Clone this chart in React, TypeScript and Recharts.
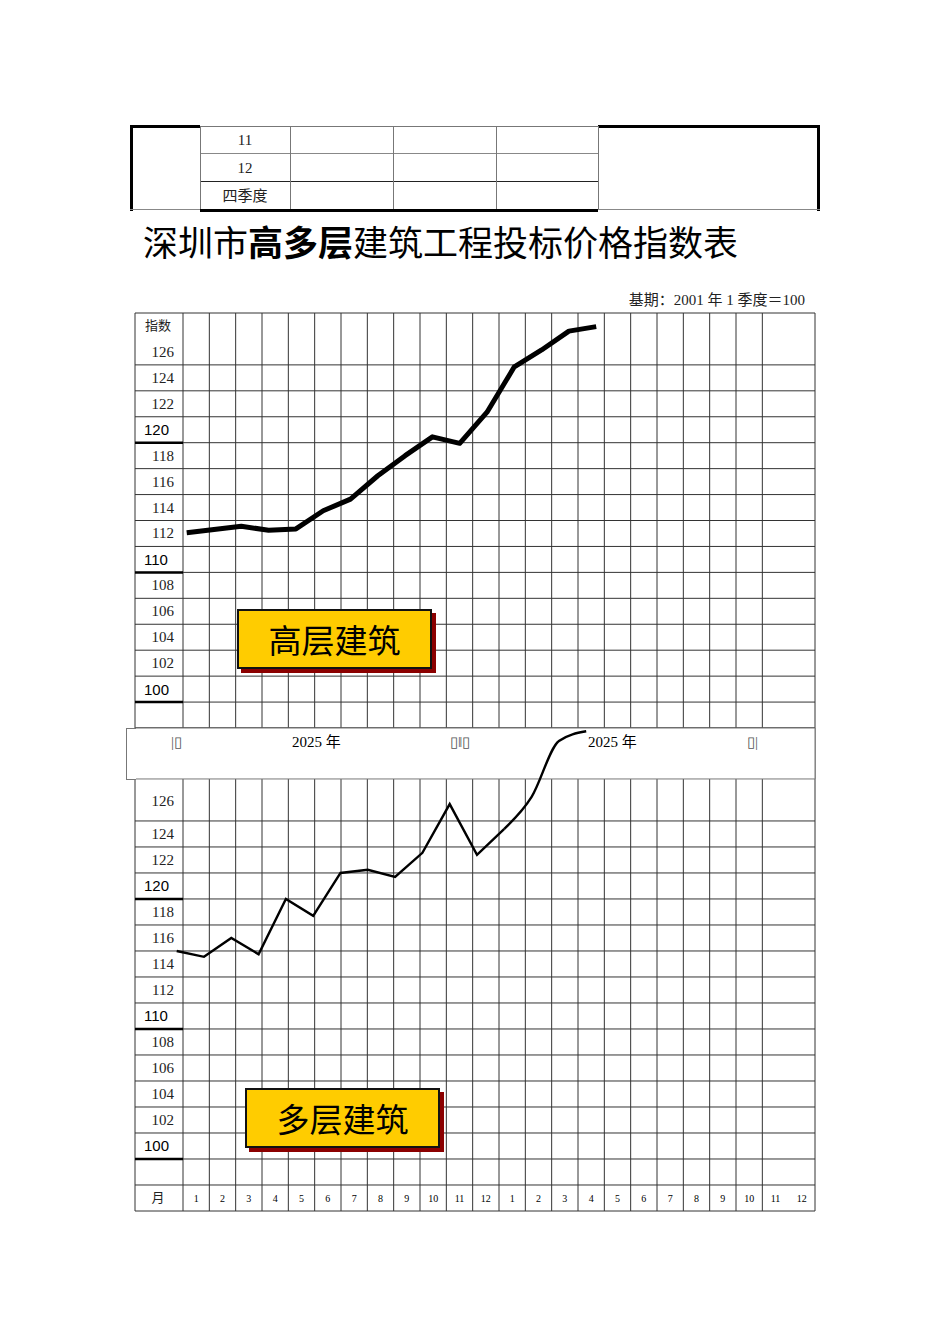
import React from "react";
import { LineChart, Line, XAxis, YAxis, CartesianGrid, ReferenceArea } from "recharts";

/* ── Data ─────────────────────────────────────────────────────────────── */
const months = ["1", "2", "3", "4", "5", "6", "7", "8", "9", "10", "11", "12",
  "1", "2", "3", "4", "5", "6", "7", "8", "9", "10", "11", "12"];

// 高层建筑 – index per month (Jan of year 1 .. Apr of year 2)
const highRise = [112.05, 112.3, 112.55, 112.25, 112.35, 113.75, 114.65, 116.45,
  118.0, 119.45, 118.95, 121.35, 124.85, 126.15, 127.6, 127.95];
// 多层建筑
const multiStorey = [115.0, 114.55, 116.0, 114.75, 119.0, 117.7, 121.0, 121.25,
  120.7, 122.55, 126.3, 122.4, 124.4, 126.85, 131.15, 131.9];

const upperTicks = [128, 126, 124, 122, 120, 118, 116, 114, 112, 110, 108, 106, 104, 102, 100, 98];
const upperLabels = ["指数", "126", "124", "122", "120", "118", "116", "114", "112",
  "110", "108", "106", "104", "102", "100", ""];
const lowerTicks = [126, 124, 122, 120, 118, 116, 114, 112, 110, 108, 106, 104, 102, 100, 98, 96];
const lowerLabels = ["126", "124", "122", "120", "118", "116", "114", "112",
  "110", "108", "106", "104", "102", "100", "", "月"];
const boldRows = ["120", "110", "100"];
const tableRows = ["11", "12", "四季度"];
const bandTexts = ["|▯", "2025 年", "▯‖▯", "2025 年", "▯|"];

const rows = highRise.map((h, i) => ({
  i,
  high: h,
  lowA: i <= 12 ? multiStorey[i] : null,
  lowB: i >= 12 ? multiStorey[i] : null,
}));

/* ── Layout ───────────────────────────────────────────────────────────── */
const serif = "'Liberation Serif', 'Noto Sans CJK SC', serif";
const cjk = "'Noto Sans CJK SC', sans-serif";
const PLOT_W = 680;
const LABEL_COLS = 48 / 26.33;
const colTicks = [-LABEL_COLS, ...Array.from({ length: 25 }, (_, k) => k)];
const monTicks = months.map((_, k) => k + 0.5);
const oddTicks = (lo: number, hi: number) => Array.from({ length: (hi - lo) / 2 + 1 }, (_, k) => lo + 2 * k);
const GRID = "#333";

// labels of the left column; firstDy nudges the top label (the lower chart's top row is taller)
function rowLabel(ticks: number[], labels: string[], firstDy = 0) {
  return (props: any) => {
    const { payload } = props;
    const idx = ticks.indexOf(payload.value);
    const y = props.y + (idx === 0 ? firstDy : 0);
    const label = labels[idx] ?? "";
    if (!label) return <g />;
    if (boldRows.includes(label)) {
      return (
        <g>
          <text x={10} y={y} dominantBaseline="central" fontFamily="'Liberation Sans', sans-serif" fontSize={15} fill="#000">{label}</text>
          <line x1={1} x2={49} y1={y + 13} y2={y + 13} stroke="#000" strokeWidth={2.5} />
        </g>
      );
    }
    const isCjk = /\D/.test(label);
    return (
      <text x={isCjk ? 24 : 40} y={y} dominantBaseline="central" textAnchor={isCjk ? "middle" : "end"}
        fontFamily={serif} fontSize={isCjk ? 13 : 15} fill="#222">{label}</text>
    );
  };
}

function monthLabel(plotBottom: number) {
  return (props: any) => {
    const { x, payload } = props;
    return (
      <text x={x} y={plotBottom - 13} dominantBaseline="central" textAnchor="middle"
        fontFamily={serif} fontSize={10} fill="#000">{months[Math.floor(payload.value)]}</text>
    );
  };
}

function UpperChart() {
  const h = 415;
  return (
    <div style={{ position: "absolute", left: 134, top: 312 }}>
      <LineChart width={PLOT_W + 2} height={h + 2} data={rows} margin={{ top: 1, right: 1, bottom: 1, left: 1 }}>
        <XAxis xAxisId="col" type="number" dataKey="i" domain={[-LABEL_COLS, 24]} ticks={colTicks} allowDataOverflow hide />
        <XAxis xAxisId="pt" type="number" dataKey="i" domain={[-1.894, 23.014]} allowDataOverflow hide />
        <YAxis yAxisId="grid" type="number" domain={[97, 129]} ticks={oddTicks(97, 129)} allowDataOverflow hide />
        <YAxis yAxisId="v" type="number" domain={[97, 129]} ticks={upperTicks} interval={0} allowDataOverflow
          mirror axisLine={false} tickLine={false} tickSize={0} tickMargin={0} tick={rowLabel(upperTicks, upperLabels)} />
        <CartesianGrid xAxisId="col" yAxisId="grid" stroke={GRID} />
        <Line xAxisId="pt" yAxisId="v" type="linear" dataKey="high" stroke="#000" strokeWidth={5}
          strokeLinejoin="round" dot={false} isAnimationActive={false} />
      </LineChart>
    </div>
  );
}

function LowerChart() {
  const h = 483;
  return (
    <div style={{ position: "absolute", left: 134, top: 727 }}>
      <LineChart width={PLOT_W + 2} height={h + 2} data={rows} margin={{ top: 1, right: 1, bottom: 1, left: 1 }}>
        <XAxis xAxisId="col" type="number" dataKey="i" domain={[-LABEL_COLS, 24]} ticks={colTicks} allowDataOverflow hide />
        <XAxis xAxisId="mon" type="number" dataKey="i" domain={[-LABEL_COLS, 24]} ticks={monTicks} interval={0} allowDataOverflow
          mirror axisLine={false} tickLine={false} tickSize={0} tick={monthLabel(h + 1)} />
        <XAxis xAxisId="pt" type="number" dataKey="i" domain={[-1.527, 23.38]} allowDataOverflow hide />
        <YAxis yAxisId="grid" type="number" domain={[95, 132.15]} ticks={oddTicks(95, 125)} allowDataOverflow hide />
        <YAxis yAxisId="v" type="number" domain={[95, 132.15]} ticks={lowerTicks} interval={0} allowDataOverflow
          mirror axisLine={false} tickLine={false} tickSize={0} tickMargin={0} tick={rowLabel(lowerTicks, lowerLabels, -7)} />
        <CartesianGrid xAxisId="col" yAxisId="grid" stroke={GRID} />
        <ReferenceArea xAxisId="col" yAxisId="v" x1={-LABEL_COLS} x2={24} y1={128.23} y2={132.15}
          fill="#fff" fillOpacity={1} stroke="#777" strokeWidth={1} />
        <Line xAxisId="pt" yAxisId="v" type="linear" dataKey="lowA" stroke="#000" strokeWidth={2.4}
          dot={false} connectNulls={false} isAnimationActive={false} />
        <Line xAxisId="pt" yAxisId="v" type="monotone" dataKey="lowB" stroke="#000" strokeWidth={2.4}
          dot={false} connectNulls={false} isAnimationActive={false} />
      </LineChart>
    </div>
  );
}

function TopTable() {
  const cols = [200, 290, 393, 496, 598];
  return (
    <div style={{ position: "absolute", left: 0, top: 0 }}>
      {/* outer frame */}
      <div style={{ position: "absolute", left: 130, top: 125, width: 70, height: 3, background: "#000" }} />
      <div style={{ position: "absolute", left: 598, top: 125, width: 222, height: 3, background: "#000" }} />
      <div style={{ position: "absolute", left: 130, top: 125, width: 3, height: 86, background: "#000" }} />
      <div style={{ position: "absolute", left: 817, top: 125, width: 3, height: 86, background: "#000" }} />
      <div style={{ position: "absolute", left: 130, top: 209, width: 70, height: 1, background: "#888" }} />
      <div style={{ position: "absolute", left: 598, top: 209, width: 222, height: 1, background: "#888" }} />
      <div style={{ position: "absolute", left: 200, top: 209, width: 398, height: 3, background: "#000" }} />
      {/* inner table */}
      <div style={{ position: "absolute", left: 200, top: 126, width: 398, height: 1, background: "#777" }} />
      <div style={{ position: "absolute", left: 200, top: 153, width: 398, height: 1, background: "#888" }} />
      <div style={{ position: "absolute", left: 200, top: 181, width: 398, height: 1, background: "#222" }} />
      {cols.map((x) => (
        <div key={x} style={{ position: "absolute", left: x, top: 126, width: 1, height: 83, background: "#777" }} />
      ))}
      {tableRows.map((t, k) => (
        <div key={t} style={{ position: "absolute", left: 200, width: 90, top: 127 + k * 28, height: 27, lineHeight: "27px",
          textAlign: "center", fontFamily: serif, fontSize: 15, color: "#222" }}>{t}</div>
      ))}
    </div>
  );
}

function Badge({ text, left, top }: { text: string; left: number; top: number }) {
  return (
    <div style={{ position: "absolute", left, top, width: 191, height: 56, background: "#FFCC00",
      border: "2px solid #111", boxShadow: "4px 4px 0 #8b0000", textAlign: "center", lineHeight: "56px",
      fontFamily: cjk, fontSize: 33, color: "#000" }}>{text}</div>
  );
}

export default function App() {
  const bandX = [171, 292, 450, 588, 747];
  return (
    <div style={{ position: "absolute", left: 0, top: 0, width: 950, height: 1344, background: "#fff", overflow: "hidden" }}>
      <TopTable />
      <div style={{ position: "absolute", left: 143, top: 219, height: 44, lineHeight: "44px", fontFamily: cjk,
        fontSize: 35, color: "#000", whiteSpace: "nowrap" }}>
        深圳市<span style={{ fontWeight: 700 }}>高多层</span>建筑工程投标价格指数表
      </div>
      <div style={{ position: "absolute", right: 145, top: 290, lineHeight: "20px", fontFamily: serif,
        fontSize: 15, color: "#222", whiteSpace: "nowrap" }}>基期：2001 年 1 季度＝100</div>
      <UpperChart />
      <LowerChart />
      {/* left piece of the year band */}
      <div style={{ position: "absolute", left: 126, top: 728, width: 9, height: 50, background: "#fff",
        borderTop: "1px solid #777", borderLeft: "1px solid #777", borderBottom: "1px solid #777" }} />
      {bandTexts.map((t, k) => (
        <div key={k} style={{ position: "absolute", left: bandX[k], top: 732, lineHeight: "20px", fontFamily: serif,
          fontSize: 15, color: k % 2 === 1 ? "#000" : "#555", whiteSpace: "pre" }}>{t}</div>
      ))}
      <Badge text="高层建筑" left={237} top={609} />
      <Badge text="多层建筑" left={245} top={1088} />
    </div>
  );
}
